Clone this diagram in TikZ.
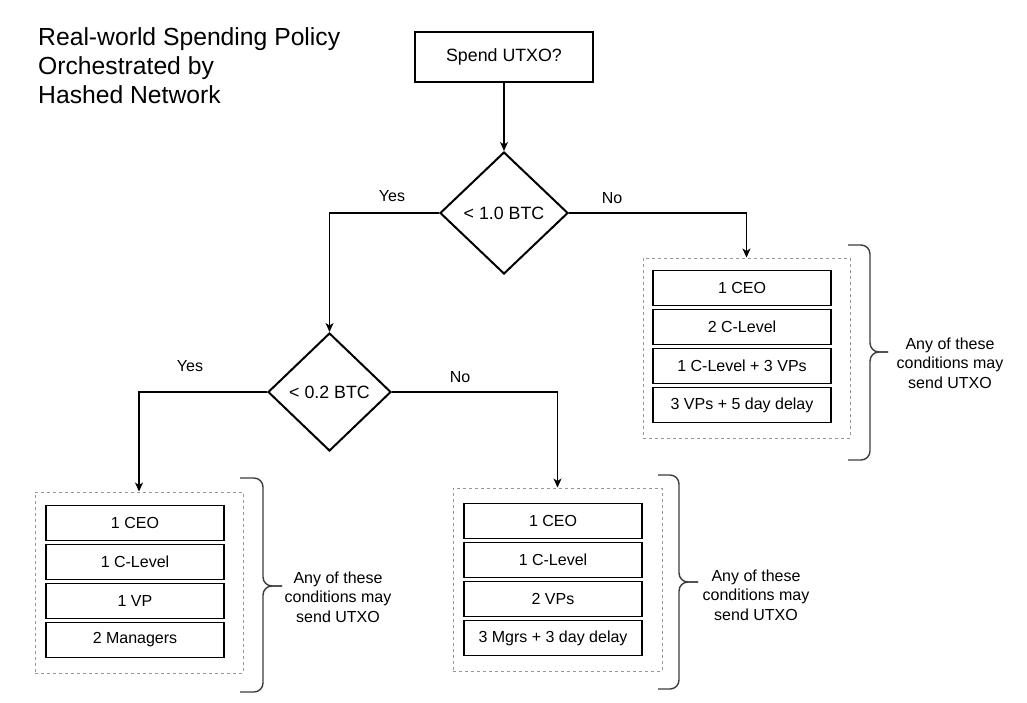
\documentclass[tikz,border=0pt]{standalone}
\usepackage{fontspec}
\setmainfont{Liberation Sans}
\usetikzlibrary{shapes.geometric,arrows.meta}
\definecolor{dashgray}{RGB}{150,150,150}
\definecolor{bracegray}{RGB}{60,60,60}
\tikzset{
  body/.style={font=\fontsize{16}{19.5}\selectfont},
  big/.style={font=\fontsize{17.8}{21}\selectfont},
  startbox/.style={big,draw,line width=1.2pt,minimum width=178pt,minimum height=50pt,inner sep=0pt},
  decision/.style={big,draw,diamond,line width=2pt,inner sep=0pt},
  cond/.style={body,draw,line width=1.3pt,minimum width=178pt,minimum height=35pt,inner sep=0pt},
  group/.style={draw=dashgray,dash pattern=on 3pt off 3pt,line width=1pt,inner sep=0pt},
  flow/.style={line width=1.2pt,-{Stealth[length=9pt,width=8pt,inset=2.5pt]}},
  lbl/.style={body},
  brace/.style={draw=bracegray,line width=1.4pt,rounded corners=9pt},
  note/.style={body,align=center},
}
\begin{document}
\begin{tikzpicture}[x=1pt,y=-1pt]
\useasboundingbox (0,0) rectangle (1027,702);
\fill[white] (0,0) rectangle (1027,702);

% title
\node[anchor=west,align=left,inner sep=0pt,font=\fontsize{24.7}{29}\selectfont] (title) at (38,66)
  {Real-world Spending Policy\\Orchestrated by\\Hashed Network};

% flow nodes
\node[startbox] (spend) at (504,57) {Spend UTXO?};
\node[decision,minimum width=128pt,minimum height=122pt] (d1) at (504,213) {{<} 1.0 BTC};
\node[decision,minimum width=123pt,minimum height=118pt] (d2) at (329.5,392) {{<} 0.2 BTC};

% groups
\node[group,minimum width=207pt,minimum height=180pt] (Rg) at (746.5,348) {};
\node[group,minimum width=208pt,minimum height=181pt] (Lg) at (139,582.5) {};
\node[group,minimum width=209pt,minimum height=183pt] (Mg) at (557.5,579.5) {};

% right conditions
\node[cond] (r1) at (742,288) {1 CEO};
\node[cond] (r2) at (742,327) {2 C-Level};
\node[cond] (r3) at (742,366) {1 C-Level + 3 VPs};
\node[cond] (r4) at (742,405) {3 VPs + 5 day delay};

% left conditions
\node[cond] (l1) at (135,523) {1 CEO};
\node[cond] (l2) at (135,562) {1 C-Level};
\node[cond] (l3) at (135,601) {1 VP};
\node[cond] (l4) at (135,640) {2 Managers};

% middle conditions
\node[cond] (m1) at (553,521) {1 CEO};
\node[cond] (m2) at (553,560) {1 C-Level};
\node[cond] (m3) at (553,599) {2 VPs};
\node[cond] (m4) at (553,638) {3 Mgrs + 3 day delay};

% connectors
\draw[flow] (spend.south) -- (d1.north);
\draw[flow] (d1.west) -| (d2.north);
\draw[flow] (d1.east) -| (Rg.north);
\draw[flow] (d2.west) -| (Lg.north);
\draw[flow] (d2.east) -| (Mg.north);

% edge labels
\node[lbl] (y1) at (392,196) {Yes};
\node[lbl] (n1) at (612,198) {No};
\node[lbl] (y2) at (190,366) {Yes};
\node[lbl] (n2) at (460,377) {No};

% braces
\draw[brace] (848,245) -- (870,245) -- (870,352) -- (888,352);
\draw[brace] (888,352) -- (870,352) -- (870,460) -- (848,460);
\draw[brace] (240,478) -- (263,478) -- (263,586) -- (282,586);
\draw[brace] (282,586) -- (263,586) -- (263,692) -- (240,692);
\draw[brace] (658,475) -- (679,475) -- (679,582) -- (698,582);
\draw[brace] (698,582) -- (679,582) -- (679,689) -- (658,689);

% notes
\node[note] (tr) at (950,363) {Any of these\\conditions may\\send UTXO};
\node[note] (tl) at (338,597) {Any of these\\conditions may\\send UTXO};
\node[note] (tm) at (756,595) {Any of these\\conditions may\\send UTXO};
\end{tikzpicture}
\end{document}
